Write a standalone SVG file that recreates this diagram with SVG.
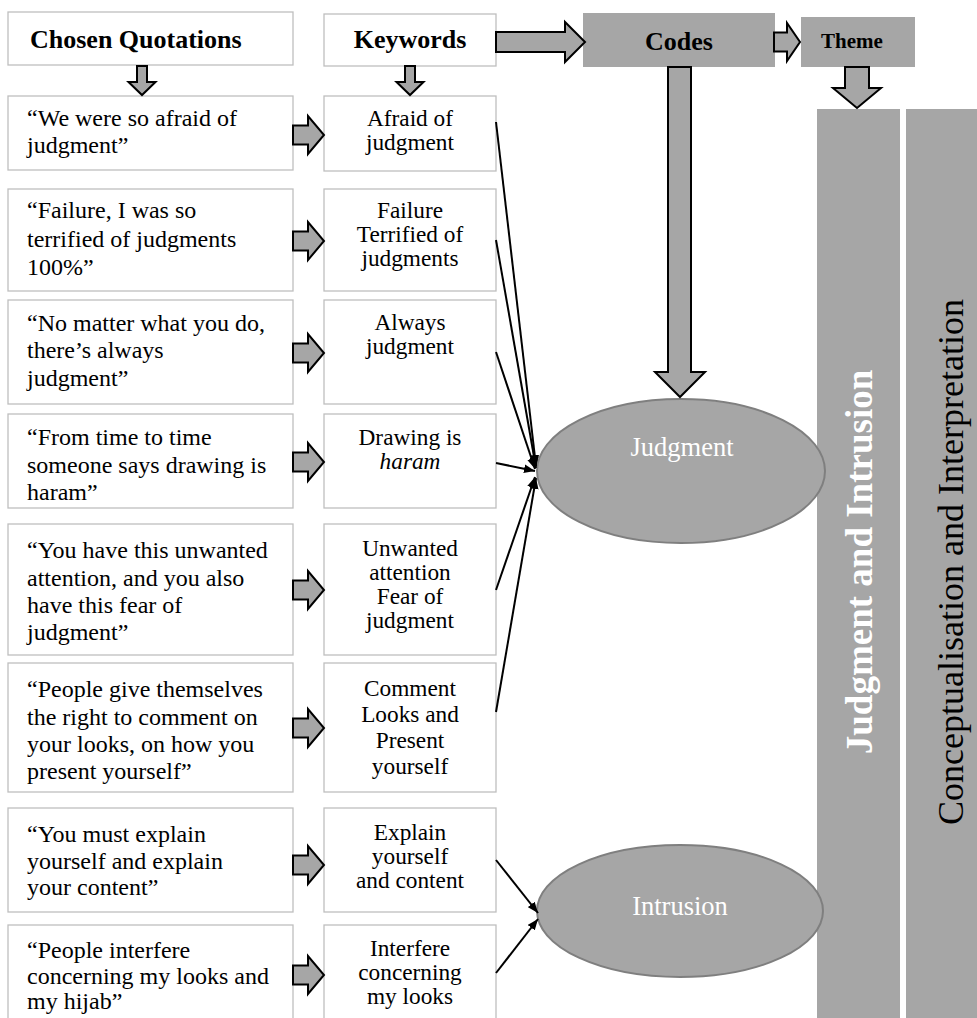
<svg xmlns="http://www.w3.org/2000/svg" width="977" height="1018" viewBox="0 0 977 1018">
  <style>
    text { font-family: "Liberation Serif", "Times New Roman", serif; }
    .box { fill: #ffffff; stroke: #bfbfbf; stroke-width: 1.3; }
    .grey { fill: #a6a6a6; }
    .block { fill: #a6a6a6; stroke: #000000; stroke-width: 2; stroke-linejoin: miter; }
    .hdr { font-size: 26px; font-weight: bold; fill: #000000; }
    .quote { font-size: 24px; fill: #000000; }
    .kw { font-size: 23.3px; fill: #000000; text-anchor: middle; }
    .code { fill: #a6a6a6; stroke: #7f7f7f; stroke-width: 2; }
    .codetext { font-size: 26.5px; fill: #ffffff; text-anchor: middle; }
    .link { stroke: #000000; stroke-width: 2; fill: none; marker-end: url(#head); }
  </style>
  <defs>
    <marker id="head" viewBox="0 0 10 8" refX="10" refY="4" markerWidth="11" markerHeight="9" markerUnits="userSpaceOnUse" orient="auto">
      <path d="M0,0 L10,4 L0,8 Z" fill="#000000"/>
    </marker>
    <!-- short right-pointing block arrow, origin at left middle -->
    <path id="rarrow" class="block" d="M0,-9.5 H15 V-19 L31,0 L15,19 V9.5 H0 Z"/>
    <!-- short down-pointing block arrow, origin at top middle -->
    <path id="darrow" class="block" d="M-5,0 V16 H-13.5 L0,29 L13.5,16 H5 V0 Z"/>
  </defs>

  <!-- header row -->
  <g id="hdr-quotations">
    <rect class="box" x="8" y="12" width="285" height="53"/>
    <text class="hdr" x="30" y="48">Chosen Quotations</text>
  </g>
  <g id="hdr-keywords">
    <rect class="box" x="324" y="14" width="172" height="52"/>
    <text class="hdr" x="410" y="48" text-anchor="middle">Keywords</text>
  </g>
  <g id="hdr-codes">
    <rect class="grey" x="583" y="13" width="192" height="54"/>
    <text class="hdr" x="679" y="50" text-anchor="middle">Codes</text>
  </g>
  <g id="hdr-theme">
    <rect class="grey" x="801" y="17" width="114" height="50"/>
    <text class="hdr" x="852" y="48" text-anchor="middle" style="font-size:21px">Theme</text>
  </g>

  <!-- theme bars -->
  <g id="theme-bar">
    <rect class="grey" x="817" y="109" width="83" height="909"/>
    <text transform="translate(872,562) rotate(-90)" text-anchor="middle" font-size="37" font-weight="bold" fill="#ffffff">Judgment and Intrusion</text>
  </g>
  <g id="concept-bar">
    <rect class="grey" x="906" y="109" width="71" height="909"/>
    <text transform="translate(963,562) rotate(-90)" text-anchor="middle" font-size="36" fill="#000000">Conceptualisation and Interpretation</text>
  </g>

  <!-- quotation boxes -->
  <g id="q1">
    <rect class="box" x="8" y="96" width="285" height="74"/>
    <text class="quote"><tspan x="27" y="126">“We were so afraid of</tspan><tspan x="27" y="153">judgment”</tspan></text>
  </g>
  <g id="q2">
    <rect class="box" x="8" y="189" width="285" height="102"/>
    <text class="quote"><tspan x="27" y="218">“Failure, I was so</tspan><tspan x="27" y="247">terrified of judgments</tspan><tspan x="27" y="275">100%”</tspan></text>
  </g>
  <g id="q3">
    <rect class="box" x="8" y="300" width="285" height="104"/>
    <text class="quote"><tspan x="27" y="331">“No matter what you do,</tspan><tspan x="27" y="358">there’s always</tspan><tspan x="27" y="386">judgment”</tspan></text>
  </g>
  <g id="q4">
    <rect class="box" x="8" y="414" width="285" height="94"/>
    <text class="quote"><tspan x="27" y="445">“From time to time</tspan><tspan x="27" y="473">someone says drawing is</tspan><tspan x="27" y="500">haram”</tspan></text>
  </g>
  <g id="q5">
    <rect class="box" x="8" y="524" width="285" height="131"/>
    <text class="quote"><tspan x="27" y="558">“You have this unwanted</tspan><tspan x="27" y="586">attention, and you also</tspan><tspan x="27" y="613">have this fear of</tspan><tspan x="27" y="640">judgment”</tspan></text>
  </g>
  <g id="q6">
    <rect class="box" x="8" y="663" width="285" height="129"/>
    <text class="quote"><tspan x="27" y="697">“People give themselves</tspan><tspan x="27" y="725">the right to comment on</tspan><tspan x="27" y="752">your looks, on how you</tspan><tspan x="27" y="779">present yourself”</tspan></text>
  </g>
  <g id="q7">
    <rect class="box" x="8" y="808" width="285" height="104"/>
    <text class="quote"><tspan x="27" y="842">“You must explain</tspan><tspan x="27" y="869">yourself and explain</tspan><tspan x="27" y="895">your content”</tspan></text>
  </g>
  <g id="q8">
    <rect class="box" x="8" y="925" width="285" height="100"/>
    <text class="quote"><tspan x="27" y="958">“People interfere</tspan><tspan x="27" y="984">concerning my looks and</tspan><tspan x="27" y="1009">my hijab”</tspan></text>
  </g>

  <!-- keyword boxes -->
  <g id="k1">
    <rect class="box" x="324" y="96" width="172" height="75"/>
    <text class="kw"><tspan x="410" y="126">Afraid of</tspan><tspan x="410" y="150">judgment</tspan></text>
  </g>
  <g id="k2">
    <rect class="box" x="324" y="189" width="172" height="102"/>
    <text class="kw"><tspan x="410" y="218">Failure</tspan><tspan x="410" y="242">Terrified of</tspan><tspan x="410" y="266">judgments</tspan></text>
  </g>
  <g id="k3">
    <rect class="box" x="324" y="300" width="172" height="104"/>
    <text class="kw"><tspan x="410" y="330">Always</tspan><tspan x="410" y="354">judgment</tspan></text>
  </g>
  <g id="k4">
    <rect class="box" x="324" y="414" width="172" height="94"/>
    <text class="kw"><tspan x="410" y="445">Drawing is</tspan><tspan x="410" y="469" font-style="italic">haram</tspan></text>
  </g>
  <g id="k5">
    <rect class="box" x="324" y="524" width="172" height="131"/>
    <text class="kw"><tspan x="410" y="556">Unwanted</tspan><tspan x="410" y="580">attention</tspan><tspan x="410" y="604">Fear of</tspan><tspan x="410" y="628">judgment</tspan></text>
  </g>
  <g id="k6">
    <rect class="box" x="324" y="663" width="172" height="129"/>
    <text class="kw"><tspan x="410" y="696">Comment</tspan><tspan x="410" y="722">Looks and</tspan><tspan x="410" y="748">Present</tspan><tspan x="410" y="774">yourself</tspan></text>
  </g>
  <g id="k7">
    <rect class="box" x="324" y="808" width="172" height="104"/>
    <text class="kw"><tspan x="410" y="840">Explain</tspan><tspan x="410" y="864">yourself</tspan><tspan x="410" y="888">and content</tspan></text>
  </g>
  <g id="k8">
    <rect class="box" x="324" y="925" width="172" height="100"/>
    <text class="kw"><tspan x="410" y="956">Interfere</tspan><tspan x="410" y="980">concerning</tspan><tspan x="410" y="1004">my looks</tspan></text>
  </g>

  <!-- codes -->
  <g id="code-judgment">
    <ellipse class="code" cx="681" cy="471" rx="144" ry="72"/>
    <text class="codetext" x="682" y="456">Judgment</text>
  </g>
  <g id="code-intrusion">
    <ellipse class="code" cx="680" cy="911" rx="143" ry="66"/>
    <text class="codetext" x="680" y="915">Intrusion</text>
  </g>

  <!-- connectors -->
  <g id="connectors">
    <!-- block arrows between stages -->
    <use href="#darrow" x="142" y="66"/>
    <use href="#darrow" x="410" y="66"/>
    <path class="block" d="M496,32 H565 V22 L585,42 L565,62 V52 H496 Z"/>
    <path class="block" d="M774,32.5 H787 V23 L800,42 L787,61 V51.5 H774 Z"/>
    <path class="block" d="M845,67 V88 H833 L857,108 L881,88 H869 V67 Z"/>
    <path class="block" d="M668,67 V372 H655 L680,397 L705,372 H691 V67 Z"/>

    <use href="#rarrow" x="293" y="135"/>
    <use href="#rarrow" x="293" y="241"/>
    <use href="#rarrow" x="293" y="353"/>
    <use href="#rarrow" x="293" y="462"/>
    <use href="#rarrow" x="293" y="590"/>
    <use href="#rarrow" x="293" y="728"/>
    <use href="#rarrow" x="293" y="865"/>
    <use href="#rarrow" x="293" y="975"/>

    <!-- keywords to codes -->
    <line class="link" x1="496" y1="122" x2="536" y2="466"/>
    <line class="link" x1="496" y1="240" x2="536" y2="468"/>
    <line class="link" x1="496" y1="352" x2="535" y2="469"/>
    <line class="link" x1="496" y1="463" x2="535" y2="471"/>
    <line class="link" x1="496" y1="590" x2="535" y2="477"/>
    <line class="link" x1="496" y1="712" x2="536" y2="478"/>
    <line class="link" x1="496" y1="860" x2="538" y2="913"/>
    <line class="link" x1="496" y1="973" x2="538" y2="919"/>
  </g>
</svg>
